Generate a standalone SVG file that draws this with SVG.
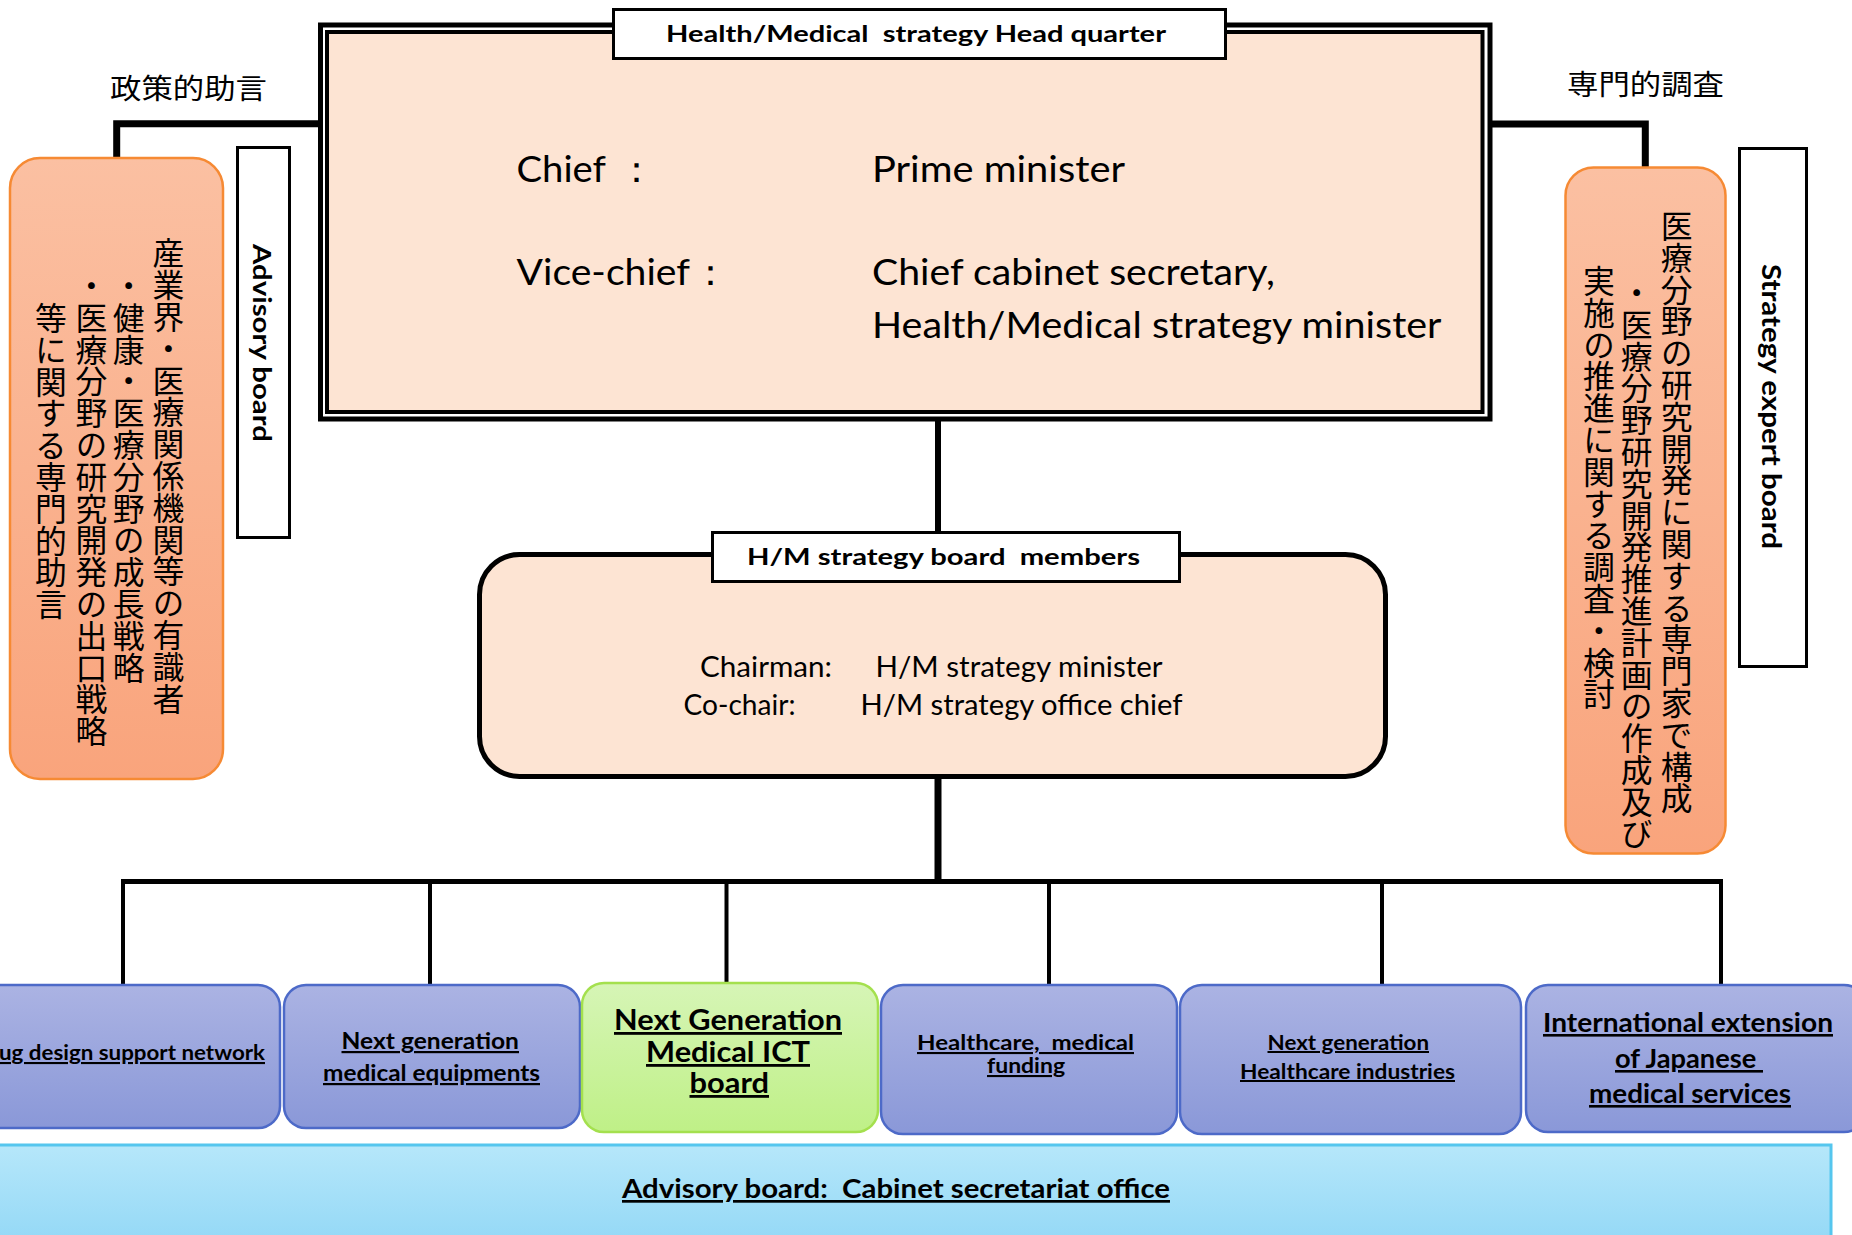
<svg xmlns="http://www.w3.org/2000/svg" width="1852" height="1235" viewBox="0 0 1852 1235">
  <defs>
    <linearGradient id="gOrange" x1="0" y1="0" x2="0" y2="1">
      <stop offset="0" stop-color="#fbc0a2"/>
      <stop offset="1" stop-color="#f9a47c"/>
    </linearGradient>
    <linearGradient id="gBlue" x1="0" y1="0" x2="0" y2="1">
      <stop offset="0" stop-color="#abb3e3"/>
      <stop offset="1" stop-color="#8a98d8"/>
    </linearGradient>
    <linearGradient id="gGreen" x1="0" y1="0" x2="0" y2="1">
      <stop offset="0" stop-color="#d6f5b6"/>
      <stop offset="1" stop-color="#bff087"/>
    </linearGradient>
    <linearGradient id="gCyan" x1="0" y1="0" x2="0" y2="1">
      <stop offset="0" stop-color="#b6e7fa"/>
      <stop offset="1" stop-color="#93d8f6"/>
    </linearGradient>
    <style>
      .lat { font-family: Lato, 'Liberation Sans', sans-serif; fill: #000; }
      .b { font-weight: bold; }
      .u { text-decoration: underline; }
      .mid { text-anchor: middle; }
      .jp { font-family: 'Noto Sans CJK JP', sans-serif; fill: #000; }
      .vt { writing-mode: vertical-rl; font-size: 31.8px; }
      .label { fill: #fff; stroke: #000; stroke-width: 3; }
      .peach { fill: #fde4d3; }
      .orange { fill: url(#gOrange); stroke: #f68a34; stroke-width: 2.5; }
      .blue { fill: url(#gBlue); stroke: #4d6ac8; stroke-width: 2.5; }
      .green { fill: url(#gGreen); stroke: #a4e04e; stroke-width: 2.5; }
      .wire { stroke: #000; fill: none; stroke-linecap: butt; }
    </style>
  </defs>

  <!-- connectors -->
  <g id="connectors">
    <path class="wire" stroke-width="7" d="M320 123.7 H116.7 V158"/>
    <path class="wire" stroke-width="7" d="M1490 124 H1645.3 V167"/>
    <path class="wire" stroke-width="6" d="M938 419 V554"/>
    <path class="wire" stroke-width="7" d="M938 779 V884"/>
    <path class="wire" stroke-width="5" d="M121 881.5 H1723"/>
    <path class="wire" stroke-width="4" d="M123 879 V985 M430 879 V985 M726.5 879 V983 M1049 879 V985 M1382 879 V985 M1721 879 V985"/>
  </g>

  <!-- headquarters -->
  <g id="headquarter">
    <rect x="320.5" y="25" width="1169.5" height="394" fill="#fff" stroke="#000" stroke-width="5"/>
    <rect x="327" y="32" width="1155.5" height="380" class="peach" stroke="#000" stroke-width="4"/>
    <rect x="613.5" y="9.5" width="612" height="49" class="label"/>
    <text class="lat b" x="666" y="42" font-size="22" textLength="500" lengthAdjust="spacingAndGlyphs" xml:space="preserve">Health/Medical  strategy Head quarter</text>
    <text class="lat" font-size="37" y="182"><tspan x="516.5" textLength="89.5" lengthAdjust="spacingAndGlyphs">Chief</tspan><tspan x="618">：</tspan></text>
    <text class="lat" font-size="37" x="872" y="182" textLength="253" lengthAdjust="spacingAndGlyphs">Prime minister</text>
    <text class="lat" font-size="37" y="285"><tspan x="516.5" textLength="173.5" lengthAdjust="spacingAndGlyphs">Vice-chief</tspan><tspan x="692">：</tspan></text>
    <text class="lat" font-size="37" x="872" y="285" textLength="403" lengthAdjust="spacingAndGlyphs">Chief cabinet secretary,</text>
    <text class="lat" font-size="37" x="872" y="338" textLength="569.5" lengthAdjust="spacingAndGlyphs">Health/Medical strategy minister</text>
  </g>

  <!-- policy advice side -->
  <g id="advisory-side">
    <text class="jp" x="110" y="99" font-size="28" textLength="157" lengthAdjust="spacingAndGlyphs">政策的助言</text>
    <rect x="10" y="158" width="213" height="621" rx="30" class="orange"/>
    <text class="jp vt" x="168.3" y="237.5">産業界・医療関係機関等の有識者</text>
    <text class="jp vt" x="128.7" y="270">・健康・医療分野の成長戦略</text>
    <text class="jp vt" x="91.3" y="270">・医療分野の研究開発の出口戦略</text>
    <text class="jp vt" x="51" y="302">等に関する専門的助言</text>
  </g>
  <g id="advisory-board">
    <rect x="237.5" y="147.5" width="52" height="390" class="label"/>
    <text class="lat b mid" font-size="25" dominant-baseline="central" transform="translate(263 343) rotate(90)" textLength="198" lengthAdjust="spacingAndGlyphs">Advisory board</text>
  </g>

  <!-- expert survey side -->
  <g id="expert-side">
    <text class="jp" x="1567" y="95" font-size="28" textLength="157" lengthAdjust="spacingAndGlyphs">専門的調査</text>
    <rect x="1565.5" y="167.5" width="160" height="686" rx="28" class="orange"/>
    <text class="jp vt" x="1676.7" y="210">医療分野の研究開発に関する専門家で構成</text>
    <text class="jp vt" x="1636.7" y="277">・医療分野研究開発推進計画の作成及び</text>
    <text class="jp vt" x="1599" y="265">実施の推進に関する調査・検討</text>
  </g>
  <g id="strategy-expert-board">
    <rect x="1739.5" y="148.5" width="67" height="518" class="label"/>
    <text class="lat b mid" font-size="27" dominant-baseline="central" transform="translate(1772 406.5) rotate(90)" textLength="285" lengthAdjust="spacingAndGlyphs">Strategy expert board</text>
  </g>

  <!-- strategy board members -->
  <g id="board-members">
    <rect x="479.5" y="554.5" width="906" height="222" rx="40" class="peach" stroke="#000" stroke-width="5"/>
    <rect x="712.5" y="532.5" width="467" height="49" class="label"/>
    <text class="lat b" x="747" y="565" font-size="22" textLength="393" lengthAdjust="spacingAndGlyphs" xml:space="preserve">H/M strategy board  members</text>
    <text class="lat" x="700" y="677" font-size="28" textLength="132" lengthAdjust="spacingAndGlyphs">Chairman:</text>
    <text class="lat" x="875.5" y="677" font-size="28" textLength="287" lengthAdjust="spacingAndGlyphs">H/M strategy minister</text>
    <text class="lat" x="683.5" y="715" font-size="28" textLength="112" lengthAdjust="spacingAndGlyphs">Co-chair:</text>
    <text class="lat" x="860.5" y="715" font-size="28" textLength="322" lengthAdjust="spacingAndGlyphs">H/M strategy office chief</text>
  </g>

  <!-- working groups -->
  <g id="wg-drug-design">
    <rect x="-30" y="985" width="310" height="143" rx="22" class="blue"/>
    <text class="lat b u" x="-1" y="1060" font-size="21" textLength="266" lengthAdjust="spacingAndGlyphs">ug design support network</text>
  </g>
  <g id="wg-medical-equipment">
    <rect x="284" y="985" width="296" height="143" rx="22" class="blue"/>
    <text class="lat b u" x="341.5" y="1049" font-size="22" textLength="177.5" lengthAdjust="spacingAndGlyphs">Next generation</text>
    <text class="lat b u" x="323" y="1081" font-size="22" textLength="217" lengthAdjust="spacingAndGlyphs">medical equipments</text>
  </g>
  <g id="wg-medical-ict">
    <rect x="582" y="983" width="296" height="149" rx="22" class="green"/>
    <text class="lat b u" x="614" y="1030" font-size="28" textLength="228" lengthAdjust="spacingAndGlyphs">Next Generation</text>
    <text class="lat b u" x="646" y="1062" font-size="28" textLength="164" lengthAdjust="spacingAndGlyphs">Medical ICT</text>
    <text class="lat b u" x="689.5" y="1093" font-size="28" textLength="79.5" lengthAdjust="spacingAndGlyphs">board</text>
  </g>
  <g id="wg-funding">
    <rect x="881" y="985" width="296" height="149" rx="22" class="blue"/>
    <text class="lat b u" x="917" y="1050" font-size="21" textLength="217" lengthAdjust="spacingAndGlyphs" xml:space="preserve">Healthcare,  medical</text>
    <text class="lat b u" x="987" y="1073" font-size="21" textLength="78" lengthAdjust="spacingAndGlyphs">funding</text>
  </g>
  <g id="wg-healthcare-industries">
    <rect x="1180" y="985" width="341" height="149" rx="22" class="blue"/>
    <text class="lat b u" x="1267.5" y="1050" font-size="20" textLength="161.5" lengthAdjust="spacingAndGlyphs">Next generation</text>
    <text class="lat b u" x="1240" y="1079" font-size="20" textLength="215" lengthAdjust="spacingAndGlyphs">Healthcare industries</text>
  </g>
  <g id="wg-international">
    <rect x="1526" y="985" width="340" height="147" rx="22" class="blue"/>
    <text class="lat b u" x="1543" y="1032" font-size="26" textLength="290" lengthAdjust="spacingAndGlyphs">International extension</text>
    <text class="lat b u" x="1615" y="1068" font-size="26" textLength="148" lengthAdjust="spacingAndGlyphs" xml:space="preserve">of Japanese </text>
    <text class="lat b u" x="1589" y="1103" font-size="26" textLength="202" lengthAdjust="spacingAndGlyphs">medical services</text>
  </g>

  <!-- secretariat band -->
  <g id="secretariat">
    <rect x="-10" y="1145" width="1841" height="100" fill="url(#gCyan)" stroke="#55c6ee" stroke-width="3"/>
    <text class="lat b u" x="622" y="1198" font-size="27" textLength="548" lengthAdjust="spacingAndGlyphs" xml:space="preserve">Advisory board:  Cabinet secretariat office</text>
  </g>
</svg>
